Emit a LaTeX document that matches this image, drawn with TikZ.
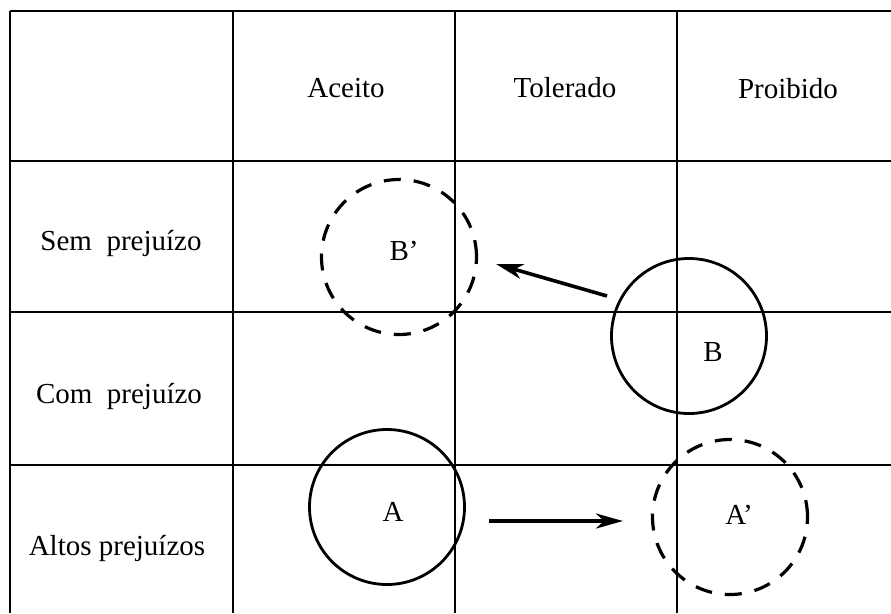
\documentclass[tikz,border=0pt]{standalone}
\usepackage{fontspec}
\setmainfont{Liberation Serif}
\usetikzlibrary{arrows.meta}
\begin{document}
\begin{tikzpicture}[x=1pt,y=-1pt,
  gridline/.style={line width=1.7pt},
  txt/.style={font=\fontsize{29}{34}\selectfont, inner sep=0pt, anchor=base},
  ring/.style={circle, draw, line width=2.8pt, minimum size=155pt, inner sep=0pt},
  dashring/.style={ring, line width=3.2pt, dash pattern=on 17pt off 13pt},
  move/.style={line width=3.6pt, -{Stealth[length=27pt,width=15pt,inset=8pt]}}]
\useasboundingbox (0,0) rectangle (891,613);
% table grid
\foreach \x in {10,233,455,677} \draw[gridline] (\x,11) -- (\x,613);
\foreach \y in {11,161,312,465} \draw[gridline] (10,\y) -- (891,\y);
% column and row headings (placed on their baselines)
\node[txt] (hAceito) at (346,97) {Aceito};
\node[txt] (hTolerado) at (565,97) {Tolerado};
\node[txt] (hProibido) at (788,98) {Proibido};
\node[txt] (rSem) at (121,250) {Sem\ \ prejuízo};
\node[txt] (rCom) at (119,403) {Com\ \ prejuízo};
\node[txt] (rAltos) at (117,555) {Altos prejuízos};
% circles
\node[dashring] (Bp) at (399,257) {};
\node[ring] (B) at (689,336) {};
\node[ring] (A) at (387,507) {};
\node[dashring] (Ap) at (730,517) {};
\node[txt] (lBp) at (404,260) {B’};
\node[txt] (lB) at (713,361) {B};
\node[txt] (lA) at (393,521) {A};
\node[txt] (lAp) at (739,524) {A’};
% shifts
\coordinate (b0) at (607,296);
\coordinate (b1) at (496,264);
\coordinate (a0) at (489,521);
\coordinate (a1) at (623,521);
\draw[move] (b0) -- (b1);
\draw[move] (a0) -- (a1);
\end{tikzpicture}
\end{document}
